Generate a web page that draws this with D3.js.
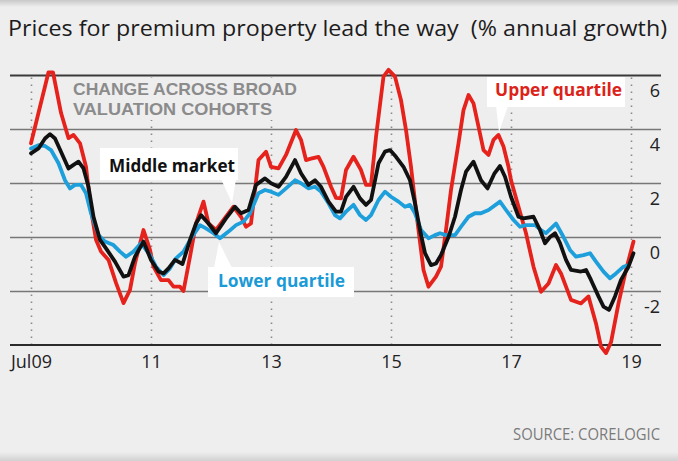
<!DOCTYPE html>
<html>
<head>
<meta charset="utf-8">
<script src="https://cdn.jsdelivr.net/npm/d3@7"></script>
<style>
  html, body { margin: 0; padding: 0; background: #efeeef; }
  svg { display: block; }
</style>
</head>
<body>
<script>
// ---------- DATA (month offsets from Jul 2009, % annual growth) ----------
const tickMonths = [0, 24, 48, 72, 96, 120];
const tickLabels = ["Jul09", "11", "13", "15", "17", "19"];
const yTicks = [-2, 0, 2, 4, 6];
const yTickLabels = ["-2", "0", "2", "4", "6"];

const upperMonths = [0,3.5,4.4,6,7.5,8.5,9.8,11,12,13,14,15.5,17,18.5,19.8,20.8,22.5,23.8,24.5,26,27.5,28.5,29.8,30.5,31.8,33,34.5,35.5,37,38.5,40.5,42,43,44,45.5,47,48,49.5,51,53,54,55,56,57.5,58.5,60,61,62,63,64.5,66,67,68,69,70.5,71.5,72.8,74,75,76,77,78,78.5,79.5,81,82,83,84,85.5,86.5,87.5,88.5,89.5,90.5,91.5,92.5,93.5,94.5,95.5,96,97.5,99,100.5,102,103.5,105,106,108,110,111.5,113,114,115,116,117.5,119,120.5];
const upperValues = [3.47,6.1,6.1,4.6,3.66,3.78,3.47,2.6,1.0,-0.1,-0.54,-0.85,-1.7,-2.45,-1.96,-0.97,0.26,-0.48,-1.1,-1.6,-1.6,-1.84,-1.84,-2.0,-0.73,0.5,1.31,0.5,0.26,0.63,1.12,0.75,0.38,0.5,2.85,3.16,2.6,2.54,3.04,3.96,3.6,2.85,2.9,2.97,2.6,1.86,1.45,1.43,2.48,2.97,2.48,1.93,1.93,3.71,5.94,6.19,5.94,5.07,3.96,2.6,1.0,-0.48,-1.22,-1.84,-1.47,-1.1,0.26,1.74,3.47,4.7,5.26,4.95,4.09,3.22,3.04,3.6,3.78,3.35,2.6,2.1,1.12,0.14,-1.1,-2.03,-1.72,-1.04,-1.35,-2.33,-2.46,-2.2,-3.2,-4.06,-4.3,-3.9,-2.46,-1.22,-0.17];

const middleMonths = [0,1.5,2.8,3.8,4.8,6,7.5,8.5,9.5,10.5,11.5,12.5,13.8,15,16.8,18.5,19.5,20.8,22.5,24,25.5,26.5,27.5,28.8,30.3,31.8,33,34,35.5,37,39,40.8,42,43.5,45,46.8,48,49.5,51,52.8,54,55.5,56.8,58,59.5,61,62,63,64.5,65.8,67,68,69.5,70.8,71.8,73,74.5,75.8,76.8,77.8,78.8,80,81,82,83.5,84.8,86,87,88.5,90,91.3,92.7,93.8,94.8,96,97.5,98.5,100.5,101.8,102.8,103.8,104.8,105.8,107,108,110,111,112,113.5,114.5,115.6,116.8,118,119.5,120.5];
const middleValues = [3.1,3.28,3.65,3.81,3.65,3.16,2.54,2.67,2.79,2.54,1.86,0.75,-0.11,-0.42,-0.91,-1.47,-1.41,-0.73,-0.17,-0.85,-1.28,-1.35,-1.16,-0.85,-1.0,-0.11,0.5,0.81,0.5,0.14,0.69,1.12,0.88,1.0,1.93,2.17,1.99,1.86,2.23,2.85,2.36,1.93,2.1,1.86,1.31,0.94,0.94,1.49,1.86,1.43,1.19,1.37,2.73,3.16,3.22,2.97,2.6,2.1,1.25,0.26,-0.6,-1.04,-0.98,-0.67,0.0,0.75,1.74,2.42,2.79,2.1,1.8,2.36,2.63,2.23,1.49,0.75,0.69,0.75,0.26,-0.23,0.0,0.14,-0.23,-0.85,-1.22,-1.28,-1.22,-1.59,-2.2,-2.58,-2.7,-2.2,-1.59,-1.1,-0.6];

const lowerMonths = [0,1.5,2.8,4,5.5,6.8,7.8,8.8,10,11,12,13.5,14.8,16.5,17.8,19,20.5,22,23.8,25,26.5,27.8,29,30.5,32,33.8,35,36.5,37.8,39.5,41,42.5,43.8,45.5,46.8,48,49.5,51,52.8,54,55.5,56.8,58,59.5,60.8,61.8,63,64.5,65.8,67,68,69.5,70.8,72,73.5,74.8,75.8,76.8,78,79.5,80.8,81.8,83,84.8,86,87.5,88.8,90,91.5,93.8,95,96.5,97.8,99,100.8,102,103,104,105,106.5,107.8,109,110.5,111.8,113,114.5,115.8,117,118.5,119.5];
const lowerValues = [3.28,3.4,3.37,3.22,2.73,2.1,1.8,1.93,1.93,1.62,0.88,0.07,-0.17,-0.3,-0.54,-0.73,-0.54,-0.23,-0.67,-1.1,-1.41,-1.16,-0.79,-0.54,-0.05,0.44,0.32,0.14,-0.05,0.2,0.44,0.57,0.88,1.62,1.74,1.68,1.56,1.8,2.1,1.99,1.8,1.86,1.68,1.25,0.81,0.69,0.94,1.19,0.81,0.63,0.81,1.37,1.68,1.49,1.31,1.12,1.19,0.88,0.26,-0.05,0.07,0.14,0.07,0.07,0.38,0.75,0.88,0.88,1.0,1.31,1.0,0.63,0.38,0.44,0.44,0.26,0.14,0.32,0.5,0.0,-0.48,-0.73,-0.67,-0.6,-0.91,-1.28,-1.53,-1.35,-1.1,-1.04];

const seriesNames = ["Upper quartile", "Lower quartile", "Middle market"];
const seriesColors = ["#e5221b", "#1c9fda", "#111111"];

// ---------- CHART ----------
const W = 678, H = 461;
const svg = d3.select("body").append("svg").attr("width", W).attr("height", H);

const defs = svg.append("defs");
const gTop = defs.append("linearGradient").attr("id", "gTop").attr("x1", 0).attr("y1", 0).attr("x2", 0).attr("y2", 1);
gTop.append("stop").attr("offset", "0%").attr("stop-color", "#c9c8c9");
gTop.append("stop").attr("offset", "100%").attr("stop-color", "#efeeef");
const gBot = defs.append("linearGradient").attr("id", "gBot").attr("x1", 0).attr("y1", 0).attr("x2", 0).attr("y2", 1);
gBot.append("stop").attr("offset", "0%").attr("stop-color", "#efeeef");
gBot.append("stop").attr("offset", "100%").attr("stop-color", "#d2d1d2");

svg.append("rect").attr("width", W).attr("height", H).attr("fill", "#efeeef");
svg.append("rect").attr("width", W).attr("height", 7).attr("fill", "url(#gTop)");
svg.append("rect").attr("y", 452).attr("width", W).attr("height", 9).attr("fill", "url(#gBot)");

const x = d3.scaleLinear().domain([0, 120]).range([31, 631]);
const y = d3.scaleLinear().domain([-4, 6]).range([345, 75]);
const gridLeft = 10, gridRight = 661;
const baseFont = "'Open Sans', 'Noto Sans', sans-serif";
const boldFont = "'Liberation Sans', Arial, sans-serif";

// Title
svg.append("text")
  .attr("x", 8).attr("y", 36)
  .attr("font-family", baseFont)
  .attr("font-size", 21.5)
  .attr("fill", "#1c1c1c")
  .attr("textLength", 659).attr("lengthAdjust", "spacingAndGlyphs")
  .text("Prices for premium property lead the way\u00A0\u00A0(% annual growth)");

// Vertical dotted lines (x ticks)
const xAxis = d3.axisBottom(x)
  .tickValues(tickMonths)
  .tickFormat((d, i) => tickLabels[i])
  .tickSize(-(y(-4) - y(6)))
  .tickPadding(8);
const gx = svg.append("g").attr("transform", `translate(0,${y(-4)})`).call(xAxis);
gx.select(".domain").remove();
gx.selectAll(".tick line")
  .attr("stroke", "#8a8a8a").attr("stroke-width", 1.6)
  .attr("stroke-dasharray", "1.6,5.4");
gx.selectAll(".tick text")
  .attr("font-family", baseFont)
  .attr("font-size", 18).attr("fill", "#222")
  .attr("y", 23).attr("dy", 0);

// Horizontal gridlines with right-hand labels
const yAxis = d3.axisRight(y)
  .tickValues(yTicks)
  .tickFormat((d, i) => yTickLabels[i])
  .tickSize(-(gridRight - gridLeft));
const gy = svg.append("g").attr("transform", `translate(${gridRight},0)`).call(yAxis);
gy.select(".domain").remove();
gy.selectAll(".tick line")
  .attr("stroke", d => d === 6 ? "#3a3a3a" : "#777")
  .attr("stroke-width", d => d === 6 ? 2 : 1.5);
gy.selectAll(".tick text")
  .attr("font-family", baseFont)
  .attr("font-size", 18).attr("fill", "#222")
  .attr("text-anchor", "end")
  .attr("x", -1).attr("dy", 21);

// Bottom axis line
svg.append("line")
  .attr("x1", gridLeft).attr("x2", gridRight)
  .attr("y1", y(-4)).attr("y2", y(-4))
  .attr("stroke", "#2a2a2a").attr("stroke-width", 2);

// Grey heading annotation (with background box hiding dotted lines)
svg.append("rect").attr("x", 66).attr("y", 78).attr("width", 236).attr("height", 42).attr("fill", "#efeeef");
svg.append("text").attr("x", 73).attr("y", 95)
  .attr("font-family", boldFont).attr("font-weight", 700).attr("font-size", 17)
  .attr("fill", "#8b8b8b").attr("textLength", 224).attr("lengthAdjust", "spacingAndGlyphs")
  .text("CHANGE ACROSS BROAD");
svg.append("text").attr("x", 73).attr("y", 115)
  .attr("font-family", boldFont).attr("font-weight", 700).attr("font-size", 17)
  .attr("fill", "#8b8b8b").attr("textLength", 199).attr("lengthAdjust", "spacingAndGlyphs")
  .text("VALUATION COHORTS");

// Lines
const line = d3.line().x(d => x(d[0])).y(d => y(d[1])).curve(d3.curveLinear);
const seriesData = [
  d3.zip(upperMonths, upperValues),
  d3.zip(lowerMonths, lowerValues),
  d3.zip(middleMonths, middleValues)
];
svg.append("g").selectAll("path")
  .data(seriesData)
  .join("path")
  .attr("d", line)
  .attr("fill", "none")
  .attr("stroke", (d, i) => seriesColors[i])
  .attr("stroke-width", 3.8)
  .attr("stroke-linejoin", "round")
  .attr("stroke-linecap", "round");

// Callout labels
const callouts = [
  { name: seriesNames[2], color: "#111", box: [100, 148, 138, 32], tail: [[221, 179], [236, 179], [232, 203]], tx: 109, ty: 172, tl: 126 },
  { name: seriesNames[1], color: "#1a9ad6", box: [208, 267, 146, 30], tail: [[214, 268], [232, 268], [219, 242]], tx: 218, ty: 287, tl: 127 },
  { name: seriesNames[0], color: "#dc2319", box: [487, 77, 138, 30], tail: [[496, 106], [508, 106], [499, 132]], tx: 495, ty: 96, tl: 127 }
];
const cg = svg.append("g").selectAll("g").data(callouts).join("g");
cg.append("polygon").attr("points", d => d.tail.map(p => p.join(",")).join(" ")).attr("fill", "#fff");
cg.append("rect")
  .attr("x", d => d.box[0]).attr("y", d => d.box[1])
  .attr("width", d => d.box[2]).attr("height", d => d.box[3])
  .attr("fill", "#fff");
cg.append("text")
  .attr("x", d => d.tx).attr("y", d => d.ty)
  .attr("font-family", baseFont).attr("font-weight", 700).attr("font-size", 17)
  .attr("fill", d => d.color)
  .attr("textLength", d => d.tl).attr("lengthAdjust", "spacingAndGlyphs")
  .text(d => d.name);

// Source
svg.append("text")
  .attr("x", 660).attr("y", 440)
  .attr("text-anchor", "end")
  .attr("font-family", baseFont)
  .attr("font-size", 15.5).attr("fill", "#7a7a7a")
  .attr("textLength", 147).attr("lengthAdjust", "spacingAndGlyphs")
  .text("SOURCE: CORELOGIC");
</script>
</body>
</html>
